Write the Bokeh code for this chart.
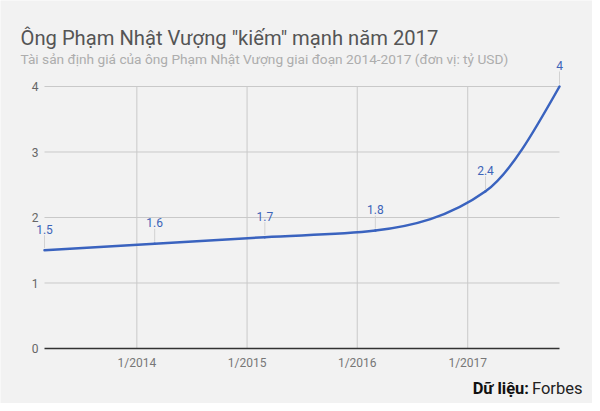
import numpy as np
from bokeh.plotting import figure
from bokeh.models import ColumnDataSource, Range1d, FixedTicker, Label, LabelSet
from bokeh.core.properties import value
from bokeh.embed import file_html
from bokeh.resources import INLINE

# ---------------- data ----------------
title_text = 'Ông Phạm Nhật Vượng "kiếm" mạnh năm 2017'
subtitle_text = "Tài sản định giá của ông Phạm Nhật Vượng giai đoạn 2014-2017 (đơn vị: tỷ USD)"
source_bold = "Dữ liệu:"
source_name = "Forbes"

dates = ["2013-03-01", "2014-03-01", "2015-03-01", "2016-03-01", "2017-03-01", "2017-11-01"]
values = [1.5, 1.6, 1.7, 1.8, 2.4, 4.0]

x_tick_dates = ["2014-01-01", "2015-01-01", "2016-01-01", "2017-01-01"]
x_tick_labels = ["1/2014", "1/2015", "1/2016", "1/2017"]
y_ticks = [0, 1, 2, 3, 4]

# ---------------- styles ----------------
BG = "#f2f2f2"
LINE = "#3a63bf"
LABEL = "#3d64b8"
GRID = "#c9c9c9"
FONT = "Roboto"
W, H = 592, 403
FL, FR, FT, FB = 44, 559, 86, 348   # pixel box of the data area inside the canvas


def to_ms(ds):
    return np.array(ds, dtype="datetime64[ms]").astype("int64").astype(float)


xs = to_ms(dates)
ys = np.array(values, dtype=float)
xt = to_ms(x_tick_dates)
ymin, ymax = min(y_ticks), max(y_ticks)

# monotone-x cubic tangents (as d3.curveMonotoneX) -> bezier control points
n = len(xs)
h = np.diff(xs)
s = np.diff(ys) / h
t = np.zeros(n)
for i in range(1, n - 1):
    pp = (s[i - 1] * h[i] + s[i] * h[i - 1]) / (h[i - 1] + h[i])
    t[i] = (np.sign(s[i - 1]) + np.sign(s[i])) * min(abs(s[i - 1]), abs(s[i]), 0.5 * abs(pp))
t[0] = (3 * s[0] - t[1]) / 2
t[-1] = (3 * s[-1] - t[-2]) / 2
dx = h / 3
bz = ColumnDataSource(dict(
    x0=xs[:-1], y0=ys[:-1], x1=xs[1:], y1=ys[1:],
    cx0=xs[:-1] + dx, cy0=ys[:-1] + dx * t[:-1],
    cx1=xs[1:] - dx, cy1=ys[1:] - dx * t[1:],
))

# ranges so that the data area lands on the FL..FR / FT..FB pixel box
mspp = (xs[-1] - xs[0]) / (FR - FL)
upp = (ymax - ymin) / (FB - FT)
x_range = Range1d(xs[0] - FL * mspp, xs[-1] + (W - FR) * mspp)
y_range = Range1d(ymin - (H - FB) * upp, ymax + FT * upp)

p = figure(
    width=W, height=H,
    x_axis_type="datetime",
    x_range=x_range, y_range=y_range,
    output_backend="svg", toolbar_location=None,
    min_border=0,
    background_fill_color=BG, border_fill_color=BG,
    outline_line_color=None,
)
p.grid.visible = False

# grid lines limited to the data area
p.segment(x0=xt, y0=[ymin] * len(xt), x1=xt, y1=[ymax] * len(xt),
          line_color=GRID, line_width=1)
gy = y_ticks[1:]
p.segment(x0=[xs[0]] * len(gy), y0=gy, x1=[xs[-1]] * len(gy), y1=gy,
          line_color=GRID, line_width=1)

# axes placed inside the canvas
for ax in (p.xaxis, p.yaxis):
    ax.major_tick_line_color = None
    ax.minor_tick_line_color = None
    ax.major_tick_out = 0
    ax.major_tick_in = 0
    ax.minor_tick_out = 0
    ax.minor_tick_in = 0
    ax.major_label_text_font = FONT
    ax.major_label_text_font_size = "12px"

p.xaxis.fixed_location = ymin
p.xaxis.bounds = (xs[0], xs[-1])
p.xaxis.ticker = FixedTicker(ticks=list(xt))
p.xaxis.major_label_overrides = {float(v): lab for v, lab in zip(xt, x_tick_labels)}
p.xaxis.axis_line_color = "#333333"
p.xaxis.axis_line_width = 1.5
p.xaxis.major_label_text_color = "#777777"
p.xaxis.major_label_standoff = 7

p.yaxis.fixed_location = float(xs[0])
p.yaxis.bounds = (ymin, ymax)
p.yaxis.ticker = FixedTicker(ticks=y_ticks)
p.yaxis.axis_line_color = None
p.yaxis.major_label_text_color = "#666666"
p.yaxis.major_label_standoff = 6

# leader lines, curve, value labels
PX = 1.0 / upp
lead = ColumnDataSource(dict(x=xs, ya=ys + 2 / PX, yb=ys + 15 / PX,
                             ly=ys + 21 / PX, txt=[f"{v:g}" for v in values]))
p.segment(x0="x", y0="ya", x1="x", y1="yb", source=lead, line_color="#d2d2d2", line_width=1)
p.bezier(x0="x0", y0="y0", x1="x1", y1="y1", cx0="cx0", cy0="cy0", cx1="cx1", cy1="cy1",
         source=bz, line_color=LINE, line_width=2.5, line_cap="round")
p.add_layout(LabelSet(x="x", y="ly", text="txt", source=lead,
                      text_align="center", text_baseline="middle",
                      text_font=value(FONT), text_font_size="12px", text_color=LABEL))

# titles and source (screen units: from left / bottom of the canvas)
p.add_layout(Label(x=20, y=H - 37, x_units="screen", y_units="screen", text=title_text,
                   text_font=FONT, text_font_size="20.2px", text_color="#555555",
                   text_align="left", text_baseline="alphabetic"))
p.add_layout(Label(x=20, y=H - 58, x_units="screen", y_units="screen", text=subtitle_text,
                   text_font=FONT, text_font_size="13.7px", text_color="#adadad",
                   text_align="left", text_baseline="alphabetic"))
p.add_layout(Label(x=528.5, y=H - 387.5, x_units="screen", y_units="screen", text=source_bold,
                   text_font=FONT, text_font_size="16.5px", text_font_style="bold",
                   text_color="#111111", text_align="right", text_baseline="middle"))
p.add_layout(Label(x=531.5, y=H - 387.5, x_units="screen", y_units="screen", text=source_name,
                   text_font=FONT, text_font_size="16.5px", text_color="#222222",
                   text_align="left", text_baseline="middle"))

open("out.html", "w").write(file_html(p, INLINE))
